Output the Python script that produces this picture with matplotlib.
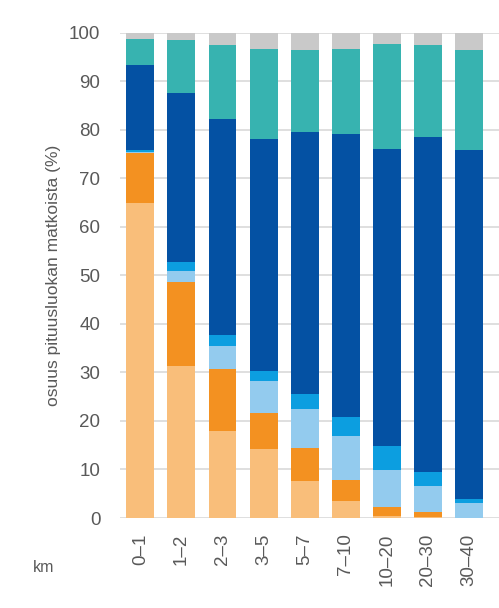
import matplotlib
matplotlib.use('Agg')
import matplotlib.pyplot as plt
import numpy as np

plt.rcParams['font.family'] = ['Liberation Sans', 'DejaVu Sans']

categories = ['0–1', '1–2', '2–3', '3–5', '5–7', '7–10', '10–20', '20–30', '30–40']

# shares per distance class (%), bottom to top
light_orange = [65.0, 31.4, 17.9, 14.2, 7.7, 3.6, 0.4, 0.2, 0.0]
orange = [10.2, 17.2, 12.8, 7.5, 6.8, 4.3, 1.9, 1.1, 0.0]
light_blue = [0.3, 2.4, 4.8, 6.5, 8.0, 9.1, 7.5, 5.3, 3.0]
mid_blue = [0.3, 1.7, 2.2, 2.1, 3.1, 3.8, 5.1, 2.9, 1.0]
dark_blue = [17.5, 34.8, 44.6, 47.8, 53.9, 58.4, 61.2, 69.1, 71.8]
teal = [5.5, 11.0, 15.2, 18.6, 17.0, 17.5, 21.6, 18.9, 20.7]
gray = [1.1, 1.4, 2.5, 3.3, 3.5, 3.3, 2.3, 2.5, 3.5]

series = [light_orange, orange, light_blue, mid_blue, dark_blue, teal, gray]
colors = ['#F9BE7A', '#F39121', '#93CBEE', '#0C9EE0', '#0451A3', '#37B3B0', '#C9C9C9']

fig = plt.figure(figsize=(4.99, 6.08), dpi=100)
ax = fig.add_axes([0.24, 0.148, 0.76, 0.798])

x = np.arange(len(categories))
bottom = np.zeros(len(categories))
for vals, c in zip(series, colors):
    ax.bar(x, vals, bottom=bottom, width=0.68, color=c, zorder=3)
    bottom += np.array(vals)

ax.set_ylim(0, 100)
ax.set_xlim(-0.5, 8.73)
ax.set_yticks(range(0, 101, 10))
ax.yaxis.grid(True, color='#D9D9D9', linewidth=1.2, zorder=0)
for s in ax.spines.values():
    s.set_visible(False)
ax.tick_params(axis='both', length=0, colors='#595959', labelsize=13.5)
ax.tick_params(axis='y', pad=14)
ax.set_xticks(x)
ax.set_xticklabels(categories, rotation=90, va='top', ha='center')
ax.tick_params(axis='x', pad=11)
ax.set_ylabel('osuus pituusluokan matkoista (%)', fontsize=12.5, color='#595959', labelpad=6)

fig.text(0.088, 0.066, 'km', fontsize=11.5, color='#595959', ha='center', va='center')

fig.savefig('out.png', dpi=100)
